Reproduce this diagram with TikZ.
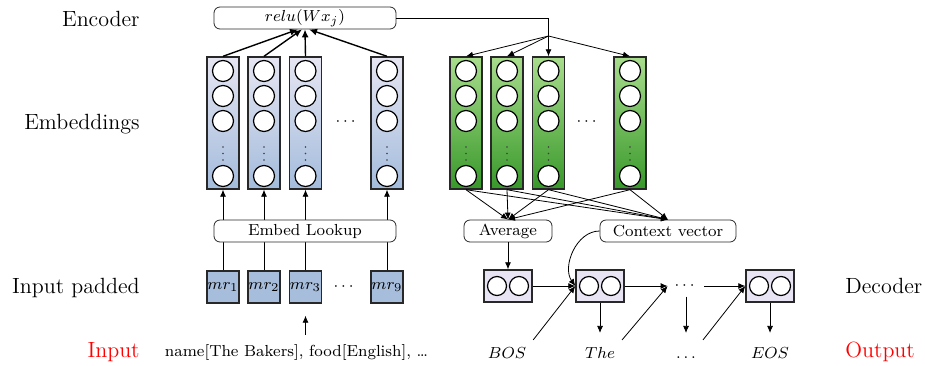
\documentclass[tikz,border=0pt]{standalone}
\usepackage{amsmath,amssymb}
\usepackage{xcolor}
\usetikzlibrary{arrows.meta,positioning,calc}
\definecolor{embtop}{RGB}{230,229,242}
\definecolor{embbot}{RGB}{163,188,220}
\definecolor{ctxtop}{RGB}{168,221,140}
\definecolor{ctxbot}{RGB}{56,152,42}
\definecolor{mrblue}{RGB}{166,189,219}
\definecolor{declav}{RGB}{233,228,243}
\definecolor{edgegray}{RGB}{40,40,40}

\begin{document}
\begin{tikzpicture}[x=0.5pt, y=-0.5pt,
  every node/.style={font=\fontsize{8}{10}\selectfont},
  side/.style={font=\fontsize{11}{13}\selectfont, inner sep=0pt},
  box/.style={rectangle, rounded corners=3pt, draw=edgegray, fill=white,
    minimum height=11pt, inner sep=0pt},
  col/.style={rectangle, draw=edgegray, line width=0.7pt,
    minimum width=16pt, minimum height=66pt, inner sep=0pt},
  unit/.style={circle, draw=black, line width=0.6pt, fill=white,
    minimum size=10.5pt, inner sep=0pt},
  token/.style={rectangle, draw=edgegray, line width=0.7pt, fill=mrblue,
    minimum size=16pt, inner sep=0pt, font=\fontsize{8.5}{10}\selectfont},
  dec/.style={rectangle, draw=edgegray, line width=0.7pt, fill=declav,
    minimum width=24pt, minimum height=16pt, inner sep=0pt},
  decunit/.style={circle, draw=black, line width=0.6pt, fill=white,
    minimum size=9.5pt, inner sep=0pt},
  word/.style={text height=5.5pt, text depth=0pt, anchor=base},
  arr/.style={-{Latex[length=3.5pt,width=3pt]}, line width=0.4pt},
  encarr/.style={-{Latex[length=4pt,width=3.5pt]}, line width=0.7pt}
]
  \useasboundingbox (0,0) rectangle (925,365);

  % row labels
  \node[side, anchor=base east] (lenc) at (140,26) {Encoder};
  \node[side, anchor=base east] (lemb) at (140,129) {Embeddings};
  \node[side, anchor=base east] (lpad) at (140,293) {Input padded};
  \node[side, anchor=base east, text=red] (linp) at (140,357) {Input};
  \node[side, anchor=base west] (ldec) at (845,293) {Decoder};
  \node[side, anchor=base west, text=red] (lout) at (845,357) {Output};

  % embedding columns
  \foreach \n/\x in {1/223,2/264,3/305.5,4/387}{
    \node[col, top color=embtop, bottom color=embbot] (b\n) at (\x,123) {};
    \node[col, top color=ctxtop, bottom color=ctxbot] (g\n) at (\x+243,123) {};
    \foreach \y in {71,96,121,176}{
      \node[unit] at (\x,\y) {};
      \node[unit] at (\x+243,\y) {};
    }
    \foreach \y in {147,153.5,160}{
      \fill[black!75] (\x,\y) circle (0.45pt);
      \fill[black!75] (\x+243,\y) circle (0.45pt);
    }
  }
  \node (bdots) at (347,122) {$\cdots$};
  \node (gdots) at (588,122) {$\cdots$};

  % padded input
  \node[token] (m1) at (223,287) {$mr_1$};
  \node[token] (m2) at (264,287) {$mr_2$};
  \node[token] (m3) at (305.5,287) {$mr_3$};
  \node[token] (m9) at (387,287) {$mr_9$};
  \node (mdots) at (345,287) {$\cdots$};
  \node[anchor=base] (inp) at (296.5,356) {name[The Bakers], food[English], \ldots};

  \foreach \n/\m in {1/1,2/2,3/3,4/9}
    \draw[arr] (m\m.north) -- (b\n.south);
  \draw[arr, shorten >=6pt, shorten <=1pt] (m3.south |- inp.north) -- (m3.south);

  \node[box, minimum width=91pt] (look) at (305,231) {Embed Lookup};
  \node[box, minimum width=91pt] (relu) at (305,18) {$relu(Wx_j)$};

  % encoder
  \draw[encarr] (b1.north) -- ([xshift=-3.5pt]relu.south);
  \draw[encarr] (b2.north) -- ([xshift=-1.5pt]relu.south);
  \draw[encarr] (b3.north) -- (relu.south);
  \draw[encarr] (b4.north) -- ([xshift=2pt]relu.south);

  \coordinate (split) at (548.5,36);
  \draw[arr] (relu.east) -| (g3.north);
  \draw[arr] (split) -- (g1.north);
  \draw[arr] (split) -- (g2.north);
  \draw[arr] (split) -- (g4.north);

  % attention
  \node[box, minimum width=44pt] (avg) at (508,231) {Average};
  \node[box, minimum width=68pt] (ctx) at (668,231) {Context vector};
  \foreach \n in {1,...,4}{
    \draw[arr] (g\n.south) -- (avg.north);
    \draw[arr] (g\n.south) -- (ctx.north);
  }

  % decoder
  \node[dec] (dec1) at (508,286) {};
  \node[dec] (dec2) at (600,286) {};
  \node[dec] (dec3) at (770,286) {};
  \foreach \d in {dec1,dec2,dec3}{
    \node[decunit] at ([xshift=-5.5pt]\d.center) {};
    \node[decunit] at ([xshift=5.5pt]\d.center) {};
  }
  \node (ddots) at (686,286) {$\cdots$};

  \node[word] (bos) at (507,358) {$BOS$};
  \node[word] (the) at (600,358) {$The$};
  \node[word] (odots) at (686,358) {$\ldots$};
  \node[word] (eos) at (770,358) {$EOS$};

  \draw[arr] (avg.south) -- (dec1.north);
  \draw[arr] (dec1.east) -- (dec2.west);
  \draw[arr] (dec2.east) -- (ddots.west);
  \draw[arr] (ddots.east) -- (dec3.west);
  \draw[arr] (ctx.west) to[out=180, in=125] (dec2.west);

  \draw[arr] (bos.north east) -- (dec2.west);
  \draw[arr] (the.north east) -- (ddots.west);
  \draw[arr] (odots.north east) -- (dec3.west);

  \draw[arr, shorten >=3.5pt] (dec2.south) -- (the.north);
  \draw[arr, shorten >=3.5pt] (ddots.south) -- (odots.north);
  \draw[arr, shorten >=3.5pt] (dec3.south) -- (eos.north);
\end{tikzpicture}
\end{document}
